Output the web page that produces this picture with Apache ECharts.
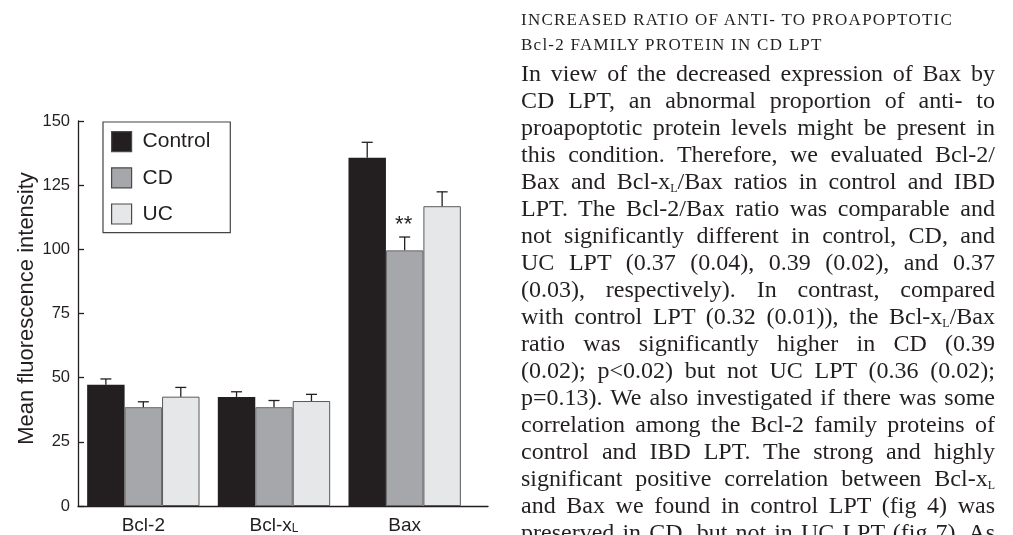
<!DOCTYPE html>
<html>
<head>
<meta charset="utf-8">
<script src="https://cdn.jsdelivr.net/npm/echarts@6/dist/echarts.min.js"></script>
<style>
  html, body { margin: 0; padding: 0; background: #fff; }
  #page { position: relative; width: 1013px; height: 535px; overflow: hidden; }
  #chart { position: absolute; left: 0; top: 0; width: 1013px; height: 535px; }
  .txt { position: absolute; left: 521px; width: 474px; color: #231f20;
         font-family: "Liberation Serif", "Times New Roman", serif; }
  .head { top: 7px; font-size: 17px; line-height: 25px; letter-spacing: 1.25px; white-space: nowrap; }
  .body { top: 60px; font-size: 24px; line-height: 27px; }
  .body div { white-space: nowrap; text-align: justify; text-align-last: justify; }
  sub { font-size: 12px; line-height: 0; vertical-align: -3px; letter-spacing: 0; }
</style>
</head>
<body>
<div id="page">
  <div id="chart"></div>
  <div class="txt head">
    <div>INCREASED RATIO OF ANTI- TO PROAPOPTOTIC</div>
    <div>Bcl-2 FAMILY PROTEIN IN CD LPT</div>
  </div>
  <div class="txt body">
    <div>In view of the decreased expression of Bax by</div>
    <div>CD LPT, an abnormal proportion of anti- to</div>
    <div>proapoptotic protein levels might be present in</div>
    <div>this condition. Therefore, we evaluated Bcl-2/</div>
    <div>Bax and Bcl-x<sub>L</sub>/Bax ratios in control and IBD</div>
    <div>LPT. The Bcl-2/Bax ratio was comparable and</div>
    <div>not significantly different in control, CD, and</div>
    <div>UC LPT (0.37 (0.04), 0.39 (0.02), and 0.37</div>
    <div>(0.03), respectively). In contrast, compared</div>
    <div>with control LPT (0.32 (0.01)), the Bcl-x<sub>L</sub>/Bax</div>
    <div>ratio was significantly higher in CD (0.39</div>
    <div>(0.02); p&lt;0.02) but not UC LPT (0.36 (0.02);</div>
    <div>p=0.13). We also investigated if there was some</div>
    <div>correlation among the Bcl-2 family proteins of</div>
    <div>control and IBD LPT. The strong and highly</div>
    <div>significant positive correlation between Bcl-x<sub>L</sub></div>
    <div>and Bax we found in control LPT (fig 4) was</div>
    <div>preserved in CD, but not in UC LPT (fig 7). As</div>
  </div>
</div>
<script>
// proteins on the x axis
const categories = ["Bcl-2", "Bcl-xL", "Bax"];
const groups = ["Control", "CD", "UC"];

// mean fluorescence intensity and SEM (upper error bar only)
const controlMean = [47.2, 42.5, 135.7];
const controlSem = [2.3, 2.0, 6.0];
const cdMean = [38.5, 38.5, 99.6];
const cdSem = [2.1, 2.6, 5.2];
const ucMean = [42.6, 40.9, 116.8];
const ucSem = [3.6, 2.6, 5.6];

// significance marks above the CD bars
const cdMarks = ["", "", "**"];

const yTicks = [0, 25, 50, 75, 100, 125, 150];

const ink = "#231f20";
const sans = "Liberation Sans, Arial, sans-serif";
const gapRatio = 0.14;

const chart = echarts.init(document.getElementById("chart"), null, { renderer: "canvas" });

function errorBars(idx, means, sems, marks) {
  return {
    type: "custom",
    xAxisIndex: 0,
    yAxisIndex: 0,
    z: 5,
    silent: true,
    data: means.map((m, i) => [i, m, m + sems[i]]),
    renderItem(params, api) {
      const band = api.size([1, 0])[0];
      const bw = (band * (1 - gapRatio)) / 3;
      const base = api.coord([api.value(0), api.value(1)]);
      const top = api.coord([api.value(0), api.value(2)]);
      const x = base[0] + (idx - 1) * bw;
      const half = 5.5;
      const stroke = { stroke: ink, lineWidth: 1.3 };
      const children = [
        { type: "line", shape: { x1: x, y1: base[1], x2: x, y2: top[1] }, style: stroke },
        { type: "line", shape: { x1: x - half, y1: top[1], x2: x + half, y2: top[1] }, style: stroke },
      ];
      const mark = marks ? marks[params.dataIndex] : "";
      if (mark) {
        children.push({
          type: "text",
          style: {
            text: mark,
            x: x - 1,
            y: top[1] - 1,
            align: "center",
            verticalAlign: "bottom",
            fill: ink,
            font: "22px " + sans,
          },
        });
      }
      return { type: "group", children };
    },
  };
}

function bars(name, values, color, border) {
  return {
    name,
    type: "bar",
    xAxisIndex: 0,
    yAxisIndex: 0,
    data: values,
    barGap: "0%",
    barCategoryGap: gapRatio * 100 + "%",
    itemStyle: { color, borderColor: border, borderWidth: border ? 1 : 0 },
    emphasis: { disabled: true },
  };
}

chart.setOption({
  animation: false,
  textStyle: { fontFamily: sans, color: ink },
  grid: [
    { left: 78, top: 121, width: 392, height: 385 },
    { left: 78, top: 121, width: 410, height: 385 },
  ],
  legend: {
    data: groups,
    orient: "vertical",
    left: 103,
    top: 122,
    itemWidth: 20,
    itemHeight: 20,
    itemGap: 15,
    padding: [9, 20, 8, 8],
    borderColor: "#444",
    borderWidth: 1.2,
    icon: "rect",
    itemStyle: { borderColor: "#4a4a4a", borderWidth: 1.2 },
    textStyle: { fontSize: 21, color: ink, fontFamily: sans, padding: [0, 0, 0, 6] },
    selectedMode: false,
  },
  xAxis: [
    {
      gridIndex: 0,
      type: "category",
      data: categories,
      axisLine: { show: false },
      axisTick: { show: false },
      axisLabel: {
        margin: 5,
        formatter: (v) => (v === "Bcl-xL" ? "{m|Bcl-x}{s|L}" : "{m|" + v + "}"),
        rich: {
          m: { fontSize: 19, lineHeight: 24, verticalAlign: "bottom", color: ink, fontFamily: sans },
          s: { fontSize: 12, lineHeight: 14, verticalAlign: "bottom", color: ink, fontFamily: sans },
        },
      },
    },
    {
      gridIndex: 1,
      type: "value",
      min: 0,
      max: 1,
      axisLine: { show: true, lineStyle: { color: ink, width: 1.3 } },
      axisTick: { show: false },
      axisLabel: { show: false },
      splitLine: { show: false },
    },
  ],
  yAxis: [
    {
      gridIndex: 0,
      type: "value",
      min: yTicks[0],
      max: yTicks[yTicks.length - 1],
      interval: 25,
      name: "Mean fluorescence intensity",
      nameLocation: "middle",
      nameGap: 40,
      nameTextStyle: { fontSize: 22, color: ink, fontFamily: sans, padding: [0, 0, 0, 10] },
      axisLine: { show: true, lineStyle: { color: ink, width: 1.3 } },
      axisTick: { show: true, inside: true, length: 6, lineStyle: { color: ink, width: 1.3 } },
      axisLabel: { fontSize: 16.5, margin: 8, color: ink },
      splitLine: { show: false },
    },
    { gridIndex: 1, type: "value", min: 0, max: 1, show: false },
  ],
  series: [
    bars("Control", controlMean, ink, null),
    bars("CD", cdMean, "#a6a7aa", "#6a6a6c"),
    bars("UC", ucMean, "#e6e7e8", "#5a5a5a"),
    errorBars(0, controlMean, controlSem, null),
    errorBars(1, cdMean, cdSem, cdMarks),
    errorBars(2, ucMean, ucSem, null),
  ],
});

window.addEventListener("resize", () => chart.resize());
</script>
</body>
</html>
